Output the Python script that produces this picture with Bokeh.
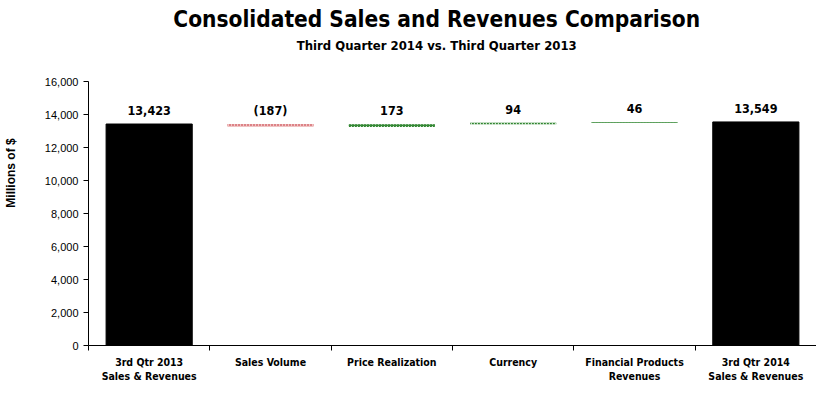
from bokeh.plotting import figure
from bokeh.models import ColumnDataSource, FixedTicker, NumeralTickFormatter, Label, LabelSet
from bokeh.core.properties import value
from bokeh.embed import file_html
from bokeh.resources import INLINE

categories = ["3rd Qtr 2013\nSales & Revenues", "Sales Volume", "Price Realization",
              "Currency", "Financial Products\nRevenues", "3rd Qtr 2014\nSales & Revenues"]
start_total = 13423
changes = [-187, 173, 94, 46]
end_total = 13549
value_labels = ["13,423", "(187)", "173", "94", "46", "13,549"]
y_ticks = [0, 2000, 4000, 6000, 8000, 10000, 12000, 14000, 16000]
title = "Consolidated Sales and Revenues Comparison"
subtitle = "Third Quarter 2014 vs. Third Quarter 2013"

# running totals for the waterfall steps
bottoms, tops = [], []
run = start_total
for c in changes:
    new = run + c
    bottoms.append(min(run, new))
    tops.append(max(run, new))
    run = new

n = len(categories)
centers = [i + 0.5 for i in range(n)]

FONT = "DejaVu Sans Condensed"

# frame extends up to the top of the figure so the titles can live inside it;
# the axis itself spans only 0..16,000 (264 px), the extra room is for titles
FRAME_H = 345
AXIS_PX = 264
y_end = y_ticks[-1] * FRAME_H / AXIS_PX

p = figure(frame_width=728, frame_height=FRAME_H, x_range=(0, n), y_range=(0, y_end),
           output_backend="svg", toolbar_location=None,
           min_border_left=10, min_border_right=0, min_border_top=0, min_border_bottom=0,
           border_fill_color="white")
p.outline_line_color = None
p.xgrid.visible = False
p.ygrid.visible = False
p.background_fill_color = "white"

# totals
tot_src = ColumnDataSource(dict(x=[centers[0], centers[-1]], top=[start_total, end_total]))
p.vbar(x="x", top="top", bottom=0, width=0.71, source=tot_src,
       fill_color="black", line_color="black")

# step bars
neg_src = ColumnDataSource(dict(x=[centers[1]], bottom=[bottoms[0]], top=[tops[0]]))
p.vbar(x="x", bottom="bottom", top="top", width=0.71, source=neg_src,
       fill_color="#f0c4c4", line_color=None, hatch_pattern="dot",
       hatch_color="#c0202a", hatch_scale=3, hatch_weight=1.4)
pos_src = ColumnDataSource(dict(x=centers[2:5], bottom=bottoms[1:], top=tops[1:]))
p.vbar(x="x", bottom="bottom", top="top", width=0.71, source=pos_src,
       fill_color="#cfe5cf", line_color=None, hatch_pattern="right_diagonal_line",
       hatch_color="#1e7a1e", hatch_scale=3, hatch_weight=1.2)

# value labels
label_y = [start_total] + [max(t, start_total) for t in tops] + [end_total]
lab_src = ColumnDataSource(dict(x=centers, y=label_y, t=value_labels))
p.add_layout(LabelSet(x="x", y="y", text="t", source=lab_src, text_align="center",
                      text_baseline="alphabetic", y_offset=9, text_font=value(FONT),
                      text_font_style="bold", text_font_size="12.5px", text_color="black"))

# axes
p.yaxis.ticker = FixedTicker(ticks=y_ticks)
p.yaxis.bounds = (y_ticks[0], y_ticks[-1])
p.yaxis.formatter = NumeralTickFormatter(format="0,0")
p.yaxis.major_label_text_font = "Liberation Sans"
p.yaxis.major_label_text_font_size = "11px"
p.yaxis.major_label_text_color = "black"
p.yaxis.major_tick_in = 0
p.yaxis.major_tick_out = 5
p.yaxis.minor_tick_line_color = None
p.yaxis.axis_line_color = "black"
p.yaxis.axis_label = "Millions of $"
p.yaxis.axis_label_text_font = "Liberation Sans"
p.yaxis.axis_label_text_font_style = "bold"
p.yaxis.axis_label_text_font_size = "12px"
p.yaxis.axis_label_text_color = "black"
p.yaxis.axis_label_standoff = 24

p.xaxis.ticker = FixedTicker(ticks=centers, minor_ticks=list(range(n + 1)))
p.xaxis.major_label_overrides = {c: lab for c, lab in zip(centers, categories)}
p.xaxis.major_tick_line_color = None
p.xaxis.major_tick_out = 0
p.xaxis.major_tick_in = 0
p.xaxis.minor_tick_in = 0
p.xaxis.minor_tick_out = 5
p.xaxis.minor_tick_line_color = "black"
p.xaxis.axis_line_color = "black"
p.xaxis.major_label_text_font = FONT
p.xaxis.major_label_text_font_style = "bold"
p.xaxis.major_label_text_font_size = "10.5px"
p.xaxis.major_label_text_color = "black"
p.xaxis.major_label_standoff = 5

# titles placed above the 16,000 line (inside the extended frame)
p.add_layout(Label(x=2.87, y=y_ticks[-1], text=title, text_align="center",
                   text_baseline="alphabetic", y_offset=63, text_font=FONT,
                   text_font_style="bold", text_font_size="22.5px", text_color="black"))
p.add_layout(Label(x=2.87, y=y_ticks[-1], text=subtitle, text_align="center",
                   text_baseline="alphabetic", y_offset=36, text_font=FONT,
                   text_font_style="bold", text_font_size="13px", text_color="black"))

open("out.html", "w").write(file_html(p, INLINE))
